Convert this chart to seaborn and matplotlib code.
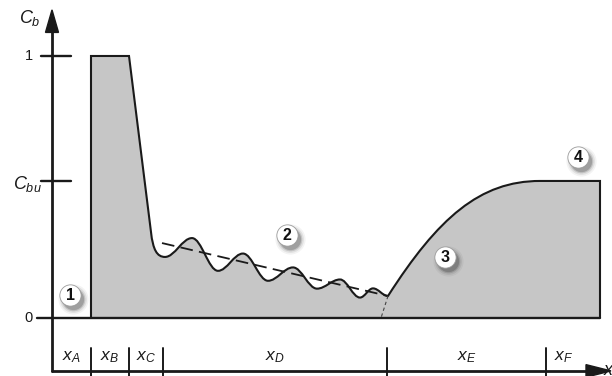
import numpy as np
import pandas as pd
import matplotlib
matplotlib.use("Agg")
import matplotlib.pyplot as plt
from matplotlib.path import Path
from matplotlib.patches import PathPatch, Polygon
import seaborn as sns

sns.set_theme(style="white")
plt.rcParams["font.family"] = ["Liberation Sans", "DejaVu Sans"]
plt.rcParams["mathtext.fontset"] = "custom"
plt.rcParams["mathtext.it"] = "Liberation Sans:italic"
plt.rcParams["mathtext.rm"] = "Liberation Sans"

# ---- data -------------------------------------------------------------
zone_names = ["A", "B", "C", "D", "E", "F"]
zone_bounds = [0.0, 0.39, 0.77, 1.11, 3.35, 4.94, 5.48]   # x positions
C_one = 1.0
C_bu = 0.523

# plateau at Cb = 1 and the steep drop
plateau_x = [0.39, 0.77]
drop_end = (0.99, 0.328)
drop_round = [(1.01, 0.260), (1.05, 0.233)]

# oscillating profile (alternating troughs and peaks), then the kink
wave_x = [1.13, 1.40, 1.66, 1.91, 2.16, 2.41, 2.65, 2.88, 3.08, 3.21, 3.36]
wave_y = [0.233, 0.305, 0.180, 0.246, 0.142, 0.193, 0.112, 0.147, 0.078, 0.113, 0.084]

# recovery curve towards C_bu (cubic control points)
rise_ctrl_x = [3.36, 3.86, 4.28, 4.88]
rise_ctrl_y = [0.084, 0.382, C_bu, C_bu]

# mean trend of the oscillating part and its extension to zero
trend_x = [1.10, 3.36]
trend_y = [0.286, 0.084]
ext_x = [3.36, 3.29]
ext_y = [0.084, 0.0]

markers = ["1", "2", "3", "4"]
marker_x = [0.18, 2.35, 3.93, 5.26]
marker_y = [0.088, 0.317, 0.233, 0.615]

# ---- figure -----------------------------------------------------------
fig = plt.figure(figsize=(6.12, 3.76), dpi=100)
ax = fig.add_axes([0, 0, 1, 1])
ax.set_xlim(-0.52, 5.60)
ax.set_ylim(-0.2214, 1.2137)
ax.axis("off")

INK = "#1a1a1a"
FILL = "#c6c6c6"

# build the outline of the shaded area
verts = [(zone_bounds[1], 0.0), (plateau_x[0], C_one), (plateau_x[1], C_one), drop_end]
codes = [Path.MOVETO, Path.LINETO, Path.LINETO, Path.LINETO]
verts += [drop_round[0], drop_round[1], (wave_x[0], wave_y[0])]
codes += [Path.CURVE4] * 3
for i in range(1, len(wave_x)):
    x0, y0 = wave_x[i - 1], wave_y[i - 1]
    x1, y1 = wave_x[i], wave_y[i]
    dx = (x1 - x0) / 2.75
    verts += [(x0 + dx, y0), (x1 - dx, y1), (x1, y1)]
    codes += [Path.CURVE4] * 3
verts += list(zip(rise_ctrl_x[1:], rise_ctrl_y[1:]))
codes += [Path.CURVE4] * 3
verts += [(zone_bounds[-1], C_bu), (zone_bounds[-1], 0.0)]
codes += [Path.LINETO, Path.LINETO]

outline = Path(verts, codes)
ax.add_patch(PathPatch(Path(verts + [verts[0]], codes + [Path.CLOSEPOLY]),
                       facecolor=FILL, edgecolor="none", zorder=1))
ax.add_patch(PathPatch(outline, facecolor="none", edgecolor=INK,
                       lw=1.5, capstyle="butt", joinstyle="miter", zorder=3))

# trend line and extension
trend = pd.DataFrame({"x": trend_x, "y": trend_y})
sns.lineplot(data=trend, x="x", y="y", ax=ax, color=INK, lw=1.3,
             sort=False, zorder=4).lines[-1].set_dashes([7, 3.5])
ext = pd.DataFrame({"x": ext_x, "y": ext_y})
sns.lineplot(data=ext, x="x", y="y", ax=ax, color="#444444", lw=0.8,
             sort=False, zorder=4).lines[-1].set_dashes([3, 2.5])

# baseline at Cb = 0 and level ticks
ax.plot([-0.15, zone_bounds[-1]], [0, 0], color=INK, lw=1.7, zorder=4)
for lvl in (C_one, C_bu):
    ax.plot([-0.11, 0.19], [lvl, lvl], color=INK, lw=1.7, zorder=4)

# axes with arrow heads
y_axis_bottom = -0.202
ax.plot([0, 0], [y_axis_bottom, 1.12], color=INK, lw=2.0, zorder=5)
ax.plot([0, 5.40], [y_axis_bottom, y_axis_bottom], color=INK, lw=2.0, zorder=5)
ax.add_patch(Polygon([(-0.065, 1.090), (0.065, 1.090), (0.0, 1.176)],
                     closed=True, color=INK, zorder=6))
ax.add_patch(Polygon([(5.34, y_axis_bottom + 0.024), (5.34, y_axis_bottom - 0.024),
                      (5.59, y_axis_bottom)], closed=True, color=INK, zorder=6))

# zone separators and labels
for b in zone_bounds[1:-1]:
    ax.plot([b, b], [-0.113, -0.25], color=INK, lw=1.4, zorder=5)
label_x = [0.195, 0.58, 0.94, 2.23, 4.145, 5.12]
for name, lx in zip(zone_names, label_x):
    ax.text(lx, -0.150, rf"$x_{name}$", ha="center", va="center",
            fontsize=12.5, color=INK, zorder=6)

# axis texts
ax.text(-0.22, 1.145, r"$C_b$", ha="center", va="center", fontsize=13, color=INK)
ax.text(-0.19, C_one, "1", ha="right", va="center", fontsize=10.5, color=INK)
ax.text(-0.10, C_bu - 0.012, r"$C_{bu}$", ha="right", va="center", fontsize=13, color=INK)
ax.text(-0.19, 0.0, "0", ha="right", va="center", fontsize=10.5, color=INK)
ax.text(5.51, y_axis_bottom, r"$x$", ha="left", va="center", fontsize=13, color=INK,
        clip_on=False)

# numbered callouts with soft shadows
for m, mx, my in zip(markers, marker_x, marker_y):
    for sz, a in [(470, 0.05), (370, 0.09), (290, 0.15), (235, 0.22)]:
        ax.scatter([mx + 0.03], [my - 0.016], s=sz, color="#222222", alpha=a,
                   linewidths=0, zorder=7)
    ax.scatter([mx], [my], s=235, color="white", edgecolors="#9a9a9a",
               linewidths=0.6, zorder=8)
    ax.text(mx, my - 0.004, m, ha="center", va="center", fontsize=11.5,
            fontweight="bold", color="#111111", zorder=9)

fig.savefig("out.png", dpi=100, facecolor="white")
